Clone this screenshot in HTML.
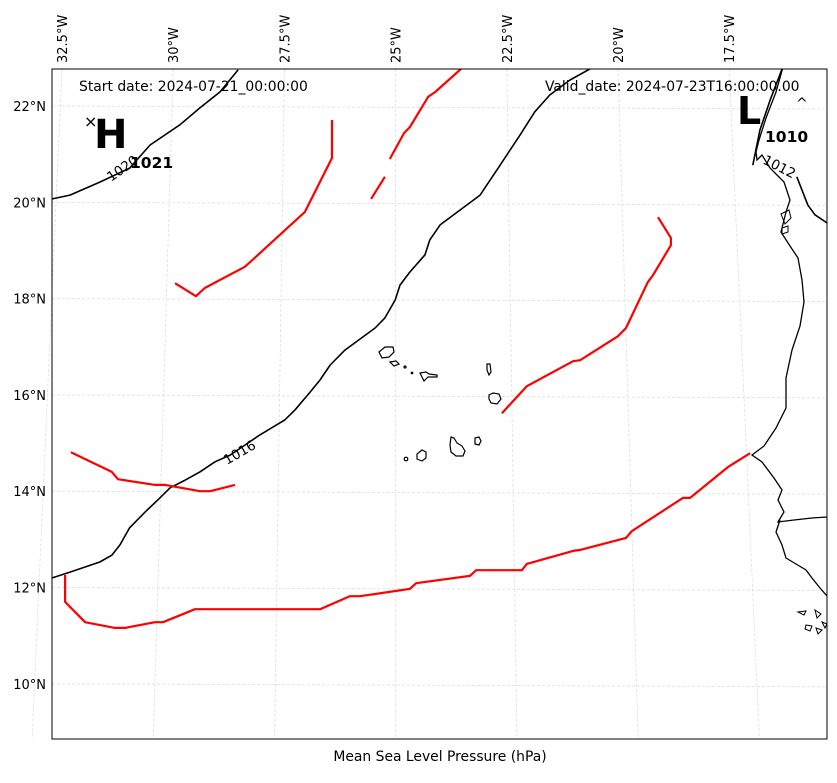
<!DOCTYPE html>
<html><head><meta charset="utf-8"><style>
body{margin:0;background:#fff;}
svg{display:block;font-family:"DejaVu Sans","Liberation Sans",sans-serif;}
</style></head><body>
<svg id="map" width="837" height="783" viewBox="0 0 837 783">
<defs><clipPath id="clip"><rect x="52" y="69" width="775" height="670"/></clipPath></defs>
<g id="grid"></g>
<g id="coast" clip-path="url(#clip)">
<path d="M785,60 L776,92 L766,118 L759,140 L756,152 L757,160 L762,155 L770,168 L778,176 L784,182 L790,200 L786,212 L781,232 L790,246 L798,258 L802,280 L804,302 L800,326 L792,350 L786,378 L786,408 L776,428 L764,446 L752,455 L762,462 L774,478 L782,490 L778,500 L784,512 L778,522 L794,520 L812,518 L827,517" fill="none" stroke="#000" stroke-width="1.3"/>
<path d="M780,520 L776,532 L782,545 L786,558 L796,564 L806,570 L812,578 L820,588 L827,596" fill="none" stroke="#000" stroke-width="1.3"/>
<path d="M798,612 l8,-1 l-2,4 z M815,610 l6,4 l-4,4 z M806,625 l6,1 l-2,5 l-5,-2 z M816,628 l6,2 l-4,4 z M822,622 l5,2 l-2,4 z" fill="none" stroke="#000" stroke-width="1"/>
<path d="M781,214 l8,-4 l2,8 l-6,6 z M782,228 l6,-2 l0,6 l-6,2 z" fill="none" stroke="#000" stroke-width="1"/>
</g>
<g id="islands" fill="none" stroke="#000" stroke-width="1.2">
<path d="M379,352 l6,-5 l8,0 l1,5 l-5,5 l-7,1 z"/>
<path d="M390,362 l6,-1 l3,3 l-5,2 z"/>
<circle cx="405" cy="367" r="1"/>
<circle cx="412" cy="373" r="0.8"/>
<path d="M420,373 l6,-1 l3,2 l8,1 l0,2 l-9,0 l-4,4 l-2,-4 z"/>
<path d="M487,364 l3,0 l1,8 l-2,3 l-2,-5 z"/>
<path d="M489,395 l4,-2 l6,1 l2,5 l-4,5 l-6,-1 l-2,-4 z"/>
<path d="M475,438 l4,-1 l2,4 l-2,4 l-4,-1 z"/>
<path d="M451,437 l3,1 l3,5 l5,3 l3,5 l-2,5 l-7,0 l-5,-4 l-1,-7 z"/>
<path d="M417,454 l5,-4 l4,2 l0,6 l-4,3 l-5,-2 z"/>
<circle cx="406" cy="459" r="1.8"/>
</g>
<g id="lines" clip-path="url(#clip)"></g>
<rect x="52" y="69" width="775" height="670" fill="none" stroke="#000" stroke-width="1"/>
<g id="labels" font-size="13" fill="#000"></g>
<text x="79" y="91" font-size="13.9">Start date: 2024-07-21_00:00:00</text>
<text x="545" y="91" font-size="13.9">Valid_date: 2024-07-23T16:00:00.00</text>
<text x="84" y="127" font-size="16">×</text>
<text x="94" y="148" font-size="40" font-weight="bold">H</text>
<text x="130" y="168" font-size="15.5" font-weight="bold">1021</text>
<text x="737" y="124" font-size="38" font-weight="bold">L</text>
<text x="796" y="108" font-size="14">^</text>
<text x="765" y="142" font-size="15.5" font-weight="bold">1010</text>
<text x="0" y="0" font-size="13.5" transform="translate(111,182) rotate(-35)">1020</text>
<text x="0" y="0" font-size="13.5" transform="translate(227,465) rotate(-30)">1016</text>
<text x="0" y="0" font-size="13.5" transform="translate(762,163) rotate(27)">1012</text>
<text x="440" y="761" font-size="13.9" text-anchor="middle">Mean Sea Level Pressure (hPa)</text>
</svg>
<script>
const latTicks = [22, 20, 18, 16, 14, 12, 10];
const lonTicks = [-32.5, -30, -27.5, -25, -22.5, -20, -17.5];
const lonTickLabels = ["32.5°W","30°W","27.5°W","25°W","22.5°W","20°W","17.5°W"];
const contour1020 = [[-32.72,20.07],[-32.32,20.15],[-31.65,20.42],[-30.98,20.71],[-30.52,21.19],[-29.85,21.61],[-29.4,21.96],[-28.95,22.29],[-28.54,22.75]];
const contour1016 = [[-32.72,12.2],[-32.32,12.32],[-31.65,12.53],[-31.38,12.67],[-31.2,12.88],[-30.98,13.24],[-30.63,13.57],[-30.3,13.86],[-30.07,14.07],[-29.73,14.23],[-29.4,14.4],[-29.06,14.61],[-28.72,14.75],[-28.05,15.17],[-27.49,15.48],[-27.26,15.69],[-26.92,16.06],[-26.7,16.31],[-26.47,16.62],[-26.14,16.93],[-25.46,17.39],[-25.24,17.6],[-25.01,17.97],[-24.9,18.28],[-24.68,18.55],[-24.34,18.91],[-24.23,19.22],[-24.0,19.53],[-23.55,19.84],[-23.1,20.15],[-22.65,20.77],[-22.2,21.4],[-21.87,21.88],[-21.53,22.23],[-21.08,22.54],[-20.63,22.77]];
const contour1012a = [[-16.31,22.77],[-16.58,22.12],[-16.81,21.5],[-16.97,20.77]];
const contour1012b = [[-15.98,20.53],[-15.73,19.94],[-15.57,19.74],[-15.3,19.57]];
const redA = [[-26.43,21.71],[-26.43,20.92],[-27.04,19.8],[-28.27,18.76],[-28.39,18.66],[-29.29,18.22],[-29.49,18.05],[-29.96,18.32]];
const redB1 = [[-25.55,20.07],[-25.24,20.53]];
const redB2 = [[-25.13,20.9],[-24.81,21.44],[-24.68,21.56],[-24.27,22.19],[-24.11,22.29],[-23.53,22.77]];
const redC = [[-19.1,19.69],[-18.81,19.26],[-18.81,19.11],[-19.21,18.49],[-19.33,18.34],[-19.82,17.39],[-20.0,17.22],[-20.85,16.72],[-21.01,16.7],[-22.05,16.18],[-22.61,15.62]];
const redD = [[-32.3,14.81],[-31.38,14.4],[-31.24,14.25],[-30.41,14.13],[-30.18,14.13],[-29.4,14.0],[-29.17,14.0],[-28.61,14.13]];
const redE = [[-32.43,12.26],[-32.43,11.7],[-31.98,11.28],[-31.31,11.16],[-31.08,11.16],[-30.41,11.28],[-30.23,11.28],[-29.51,11.55],[-26.7,11.55],[-26.03,11.82],[-25.8,11.82],[-24.68,11.97],[-24.54,12.09],[-23.33,12.24],[-23.19,12.36],[-22.16,12.36],[-22.05,12.49],[-21.01,12.76],[-20.85,12.78],[-19.82,13.03],[-19.69,13.17],[-18.54,13.86],[-18.38,13.86],[-17.53,14.5],[-17.03,14.79]];

const NS='http://www.w3.org/2000/svg';
function xScale(lon){return 62+(lon+32.5)*44.48;}
function yScale(lat){return 106+(22-lat)*48.15;}
const gridG=document.getElementById('grid'), lab=document.getElementById('labels'), linesG=document.getElementById('lines');
latTicks.forEach(function(t){
  const y=yScale(t);
  const l=document.createElementNS(NS,'line');
  
  
  l.setAttribute('x1',52);l.setAttribute('x2',827);l.setAttribute('y1',y);l.setAttribute('y2',y+3);
  l.setAttribute('stroke','#ddd');l.setAttribute('stroke-dasharray','3,2');l.setAttribute('stroke-width','0.8');
  gridG.appendChild(l);
  const tx=document.createElementNS(NS,'text');
  
  
  tx.setAttribute('x',46);tx.setAttribute('y',y+5);tx.setAttribute('text-anchor','end');
  tx.textContent=t+'°N';lab.appendChild(tx);
});
lonTicks.forEach(function(t,i){
  const x=xScale(t);
  const xb=394+(x-394)*1.09;
  const l=document.createElementNS(NS,'line');
  
  
  l.setAttribute('x1',x);l.setAttribute('y1',69);l.setAttribute('x2',xb);l.setAttribute('y2',739);
  l.setAttribute('stroke','#ddd');l.setAttribute('stroke-dasharray','3,2');l.setAttribute('stroke-width','0.8');
  gridG.appendChild(l);
  const tx=document.createElementNS(NS,'text');
  
  
  tx.setAttribute('transform','translate('+(x+5)+',63) rotate(-90)');
  tx.textContent=lonTickLabels[i];lab.appendChild(tx);
});
function draw(pts,color,name){
  const p=document.createElementNS(NS,'polyline');
  
  
  p.setAttribute('points',pts.map(function(q){return xScale(q[0]).toFixed(1)+','+yScale(q[1]).toFixed(1);}).join(' '));
  p.setAttribute('fill','none');p.setAttribute('stroke',color);
  p.setAttribute('stroke-width',color==='red'?2.2:1.6);
  p.setAttribute('stroke-linejoin','round');
  linesG.appendChild(p);
}
draw(contour1020,'#000','isobar-1020');
draw(contour1016,'#000','isobar-1016');
draw(contour1012a,'#000','isobar-1012-north');
draw(contour1012b,'#000','isobar-1012-east');
draw(redA,'red','red-line-a');
draw(redB1,'red','red-line-b1');
draw(redB2,'red','red-line-b2');
draw(redC,'red','red-line-c');
draw(redD,'red','red-line-d');
draw(redE,'red','red-line-e');
</script>
</body></html>
